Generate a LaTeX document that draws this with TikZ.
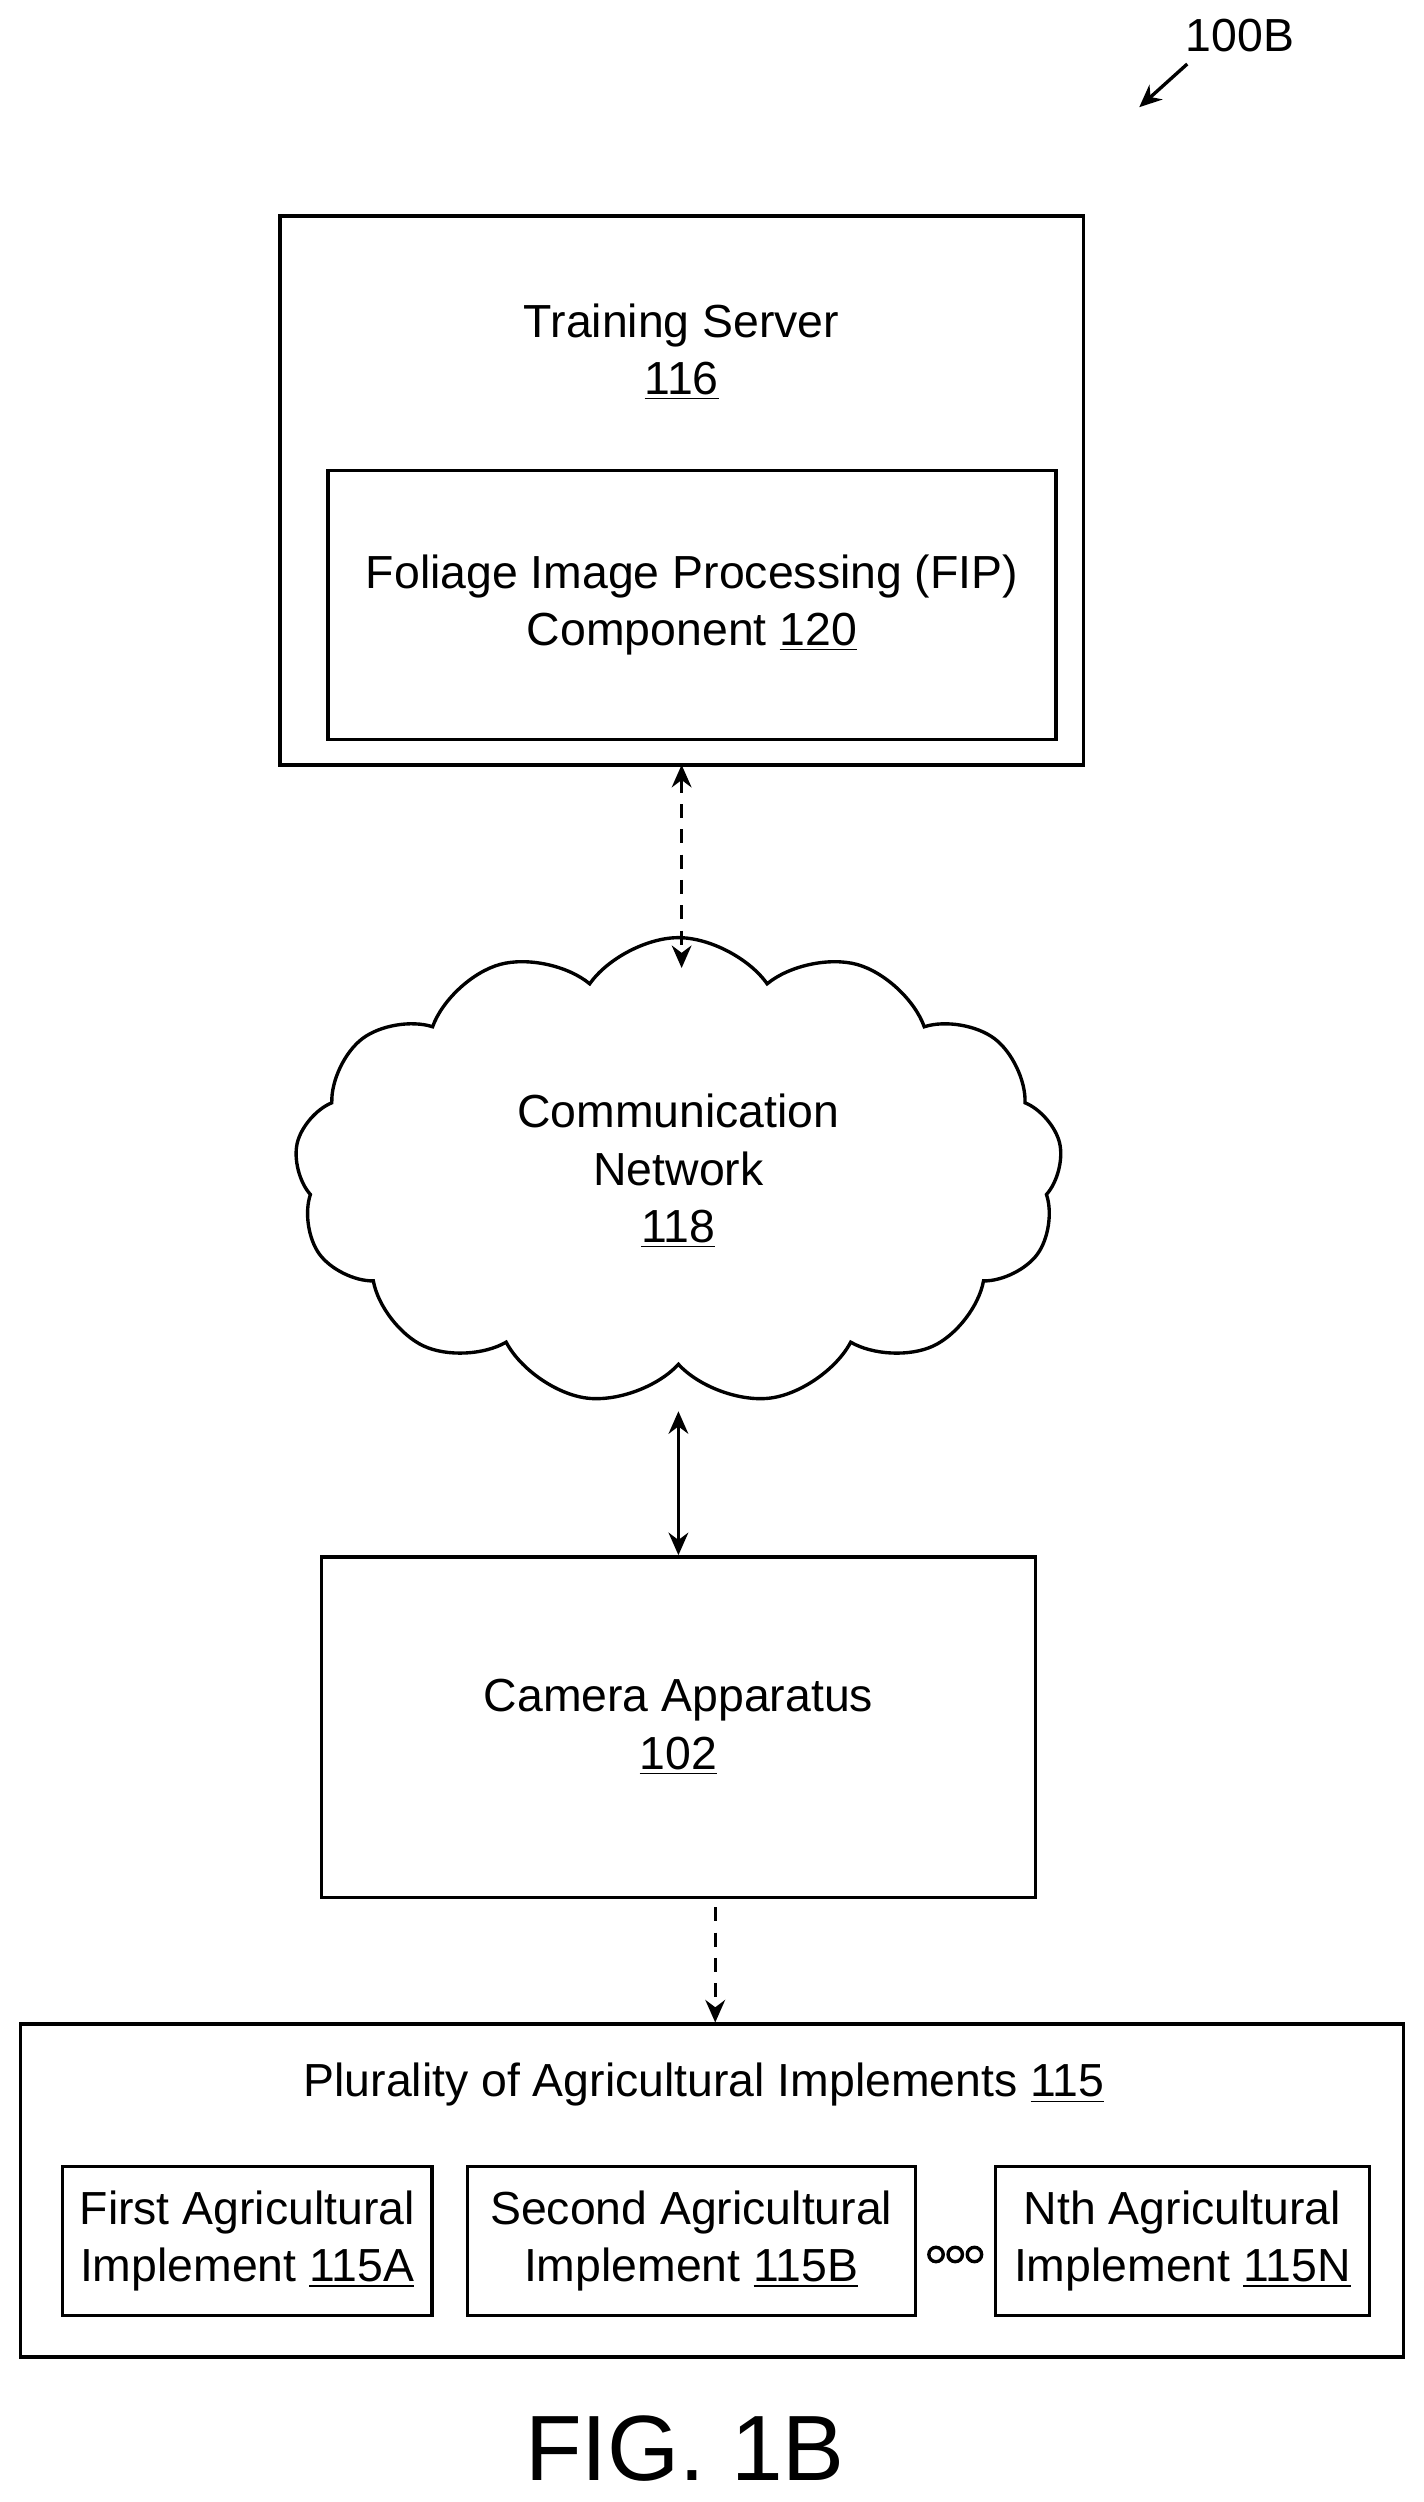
\documentclass[tikz,border=0pt]{standalone}
\usepackage{fontspec}
\setmainfont{Liberation Sans}
\usetikzlibrary{shapes.symbols,arrows.meta}
\begin{document}
\begin{tikzpicture}[x=0.02cm,y=-0.02cm,
    box/.style={draw, line width=1.2pt, align=center, font=\fontsize{16.5}{20.4}\selectfont},
    link/.style={line width=1.2pt, {Stealth[length=8pt,width=7pt]}-{Stealth[length=8pt,width=7pt]}},
    dashedlink/.style={dash pattern=on 5pt off 4pt}]
    % frame
    \useasboundingbox (0,0) rectangle (889.4,1563.7);

    % Training server with FIP component
    \node[box, minimum width=502*0.02cm, minimum height=343*0.02cm] (server) at (426,306.5) {};
    \node[box, draw=none] (servertext) at (426,220) {Training Server\\\underline{116}};
    \node[box, minimum width=455*0.02cm, minimum height=168*0.02cm] (fip) at (432.5,378)
        {Foliage Image Processing (FIP)\\Component \underline{120}};

    % Network
    \node[cloud, draw, line width=1.2pt, cloud puffs=13, cloud puff arc=110, aspect=1.6,
        minimum width=480*0.02cm, minimum height=292*0.02cm, align=center,
        font=\fontsize{16.5}{20.4}\selectfont] (net) at (424,732) {Communication\\Network\\\underline{118}};

    % Camera
    \node[box, minimum width=446*0.02cm, minimum height=213*0.02cm] (camera) at (424,1079.5)
        {Camera Apparatus\\\underline{102}};

    % Implements
    \node[box, minimum width=864*0.02cm, minimum height=208*0.02cm] (tools) at (445,1369) {};
    \node[box, draw=none] (toolstitle) at (440,1303) {Plurality of Agricultural Implements \underline{115}};
    \node[box, minimum width=231*0.02cm, minimum height=93*0.02cm, inner sep=1pt] (first) at (154.5,1400.5)
        {First Agricultural\\Implement \underline{115A}};
    \node[box, minimum width=280*0.02cm, minimum height=93*0.02cm, inner sep=1pt] (second) at (432,1400.5)
        {Second Agricultural\\Implement \underline{115B}};
    \node[box, minimum width=234*0.02cm, minimum height=93*0.02cm, inner sep=1pt] (nth) at (739,1400.5)
        {Nth Agricultural\\Implement \underline{115N}};
    \foreach \x in {585,597,609}
        \draw[line width=1.2pt] (\x,1409) circle (4.5);

    % Connectors
    \coordinate (netTop) at (426,605);
    \coordinate (netBot) at (424,882);
    \coordinate (camOut) at (447,1192);
    \coordinate (toolsIn) at (447,1264);
    \draw[link, dashedlink] (426,478) -- (netTop);
    \draw[link] (netBot) -- (camera.north);
    \draw[line width=1.2pt, dashedlink, -{Stealth[length=8pt,width=7pt]}] (camOut) -- (toolsIn);

    % Labels
    \node[font=\fontsize{33}{40}\selectfont] (fig) at (428,1530) {FIG. 1B};
    \node[font=\fontsize{16.5}{20}\selectfont] (ref) at (775,22) {100B};
    \draw[line width=1.2pt, -{Stealth[length=8pt,width=7pt]}] (742,40) -- (712,67);
\end{tikzpicture}
\end{document}
